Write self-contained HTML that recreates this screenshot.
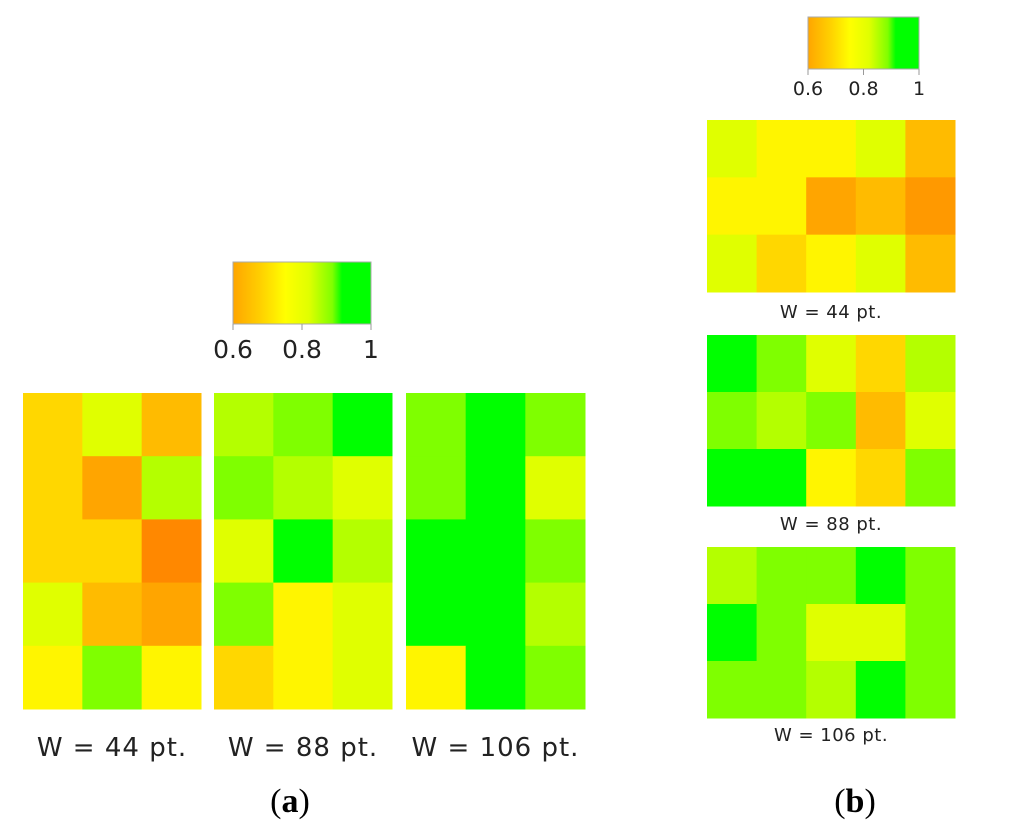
<!DOCTYPE html>
<html><head><meta charset="utf-8"><style>
html,body{margin:0;padding:0;background:#fff;}
svg{display:block;font-family:"DejaVu Sans","Liberation Sans",sans-serif;}
</style></head><body>
<svg id="fig" width="1024" height="838" viewBox="0 0 1024 838">
<defs>
<linearGradient id="cb" x1="0" x2="1" y1="0" y2="0">
<stop offset="0" stop-color="#ffa500"/><stop offset="0.2" stop-color="#ffd000"/><stop offset="0.38" stop-color="#ffff00"/><stop offset="0.55" stop-color="#e0ff00"/><stop offset="0.72" stop-color="#80ff00"/><stop offset="0.79" stop-color="#00ff00"/><stop offset="1" stop-color="#00ff00"/>
</linearGradient>
</defs>
</svg>
<script>
// Data: left panels (5 rows x 3 cols), right panels (3 rows x 5 cols)
const leftLabels = ["W = 44 pt.", "W = 88 pt.", "W = 106 pt."];
const left44 = [[0.7,0.8,0.65],[0.7,0.62,0.85],[0.7,0.7,0.57],[0.8,0.65,0.62],[0.75,0.9,0.75]];
const left88 = [[0.85,0.9,0.97],[0.9,0.85,0.8],[0.8,0.97,0.85],[0.9,0.75,0.8],[0.7,0.75,0.8]];
const left106 = [[0.9,0.97,0.9],[0.9,0.97,0.8],[0.97,0.97,0.9],[0.97,0.97,0.85],[0.75,0.97,0.9]];
const right44 = [[0.8,0.75,0.75,0.8,0.65],[0.75,0.75,0.62,0.65,0.6],[0.8,0.7,0.75,0.8,0.65]];
const right88 = [[0.97,0.9,0.8,0.7,0.85],[0.9,0.85,0.9,0.65,0.8],[0.97,0.97,0.75,0.7,0.9]];
const right106 = [[0.85,0.9,0.9,0.97,0.9],[0.97,0.9,0.8,0.8,0.9],[0.9,0.9,0.85,0.97,0.9]];
const tickLabels = ["0.6","0.8","1"];
const tickValues = [0.6,0.8,1.0];

const stopsV = [0.55,0.57,0.62,0.65,0.7,0.75,0.8,0.85,0.9,0.95,1.0];
const stopsC = [[255,128,0],[255,136,0],[255,165,0],[255,187,0],[255,215,0],[255,245,0],[224,255,0],[180,255,0],[127,255,0],[0,255,0],[0,255,0]];
function color(v){
  if(v<=stopsV[0]) return 'rgb('+stopsC[0]+')';
  for(let i=1;i<stopsV.length;i++){
    if(v<=stopsV[i]){const t=(v-stopsV[i-1])/(stopsV[i]-stopsV[i-1]);
      const c=stopsC[i-1].map((a,k)=>Math.round(a+(stopsC[i][k]-a)*t));return 'rgb('+c+')';}
  }
  return 'rgb('+stopsC[stopsC.length-1]+')';
}
const NS="http://www.w3.org/2000/svg";
const svg=document.getElementById('fig');
function mk(tag,attrs,parent){const e=document.createElementNS(NS,tag);for(const k in attrs)e.setAttribute(k,attrs[k]);(parent||svg).appendChild(e);return e;}

function heatmap(data,x0,y0,w,h,label,ly,fs,ls,name){
  const g=mk('g',{});
  
  
  const rows=data.length, cols=data[0].length;
  const cw=w/cols, ch=h/rows;
  data.forEach((row,r)=>row.forEach((v,c)=>{
    const rc=mk('rect',{x:x0+c*cw,y:y0+r*ch,width:cw+0.5,height:ch+0.5,fill:color(v)},g);
    
    
  }));
  const t=mk('text',{x:x0+w/2,y:ly,'text-anchor':'middle','font-size':fs,'letter-spacing':ls,fill:'#222'},g);
  
  
  t.textContent=label;
}
function colorbar(x0,y0,w,h,ly,fs,name){
  const g=mk('g',{});
  
  
  mk('rect',{x:x0,y:y0,width:w,height:h,fill:'url(#cb)',stroke:'#aaa','stroke-width':1},g);
  tickValues.forEach((v,i)=>{
    const x=x0+(v-0.6)/0.4*w;
    mk('line',{x1:x,x2:x,y1:y0+h,y2:y0+h+6,stroke:'#999'},g);
    const t=mk('text',{x:x,y:ly,'text-anchor':'middle','font-size':fs,fill:'#222'},g);
    
    
    t.textContent=tickLabels[i];
  });
}
// Panel (a)
colorbar(233,262,138,62,358,25,'colorbar-a');
heatmap(left44,23,393,178,316,leftLabels[0],756,26,1,'heatmap-a-44');
heatmap(left88,214,393,178,316,leftLabels[1],756,26,1,'heatmap-a-88');
heatmap(left106,406,393,179,316,leftLabels[2],756,26,1,'heatmap-a-106');
// Panel (b)
colorbar(808,17,111,52,95,19,'colorbar-b');
heatmap(right44,707,120,248,172,leftLabels[0],318,18,0.5,'heatmap-b-44');
heatmap(right88,707,335,248,171,leftLabels[1],530,18,0.5,'heatmap-b-88');
heatmap(right106,707,547,248,171,leftLabels[2],741,18,0.5,'heatmap-b-106');
// captions
[['a',290],['b',855]].forEach(([l,x])=>{
  const t=mk('text',{x:x,y:812,'text-anchor':'middle','font-size':34,'font-family':'"Liberation Serif",serif',fill:'#000'});
  
  
  t.innerHTML='(<tspan font-weight="bold">'+l+'</tspan>)';
});
</script>
</body></html>
